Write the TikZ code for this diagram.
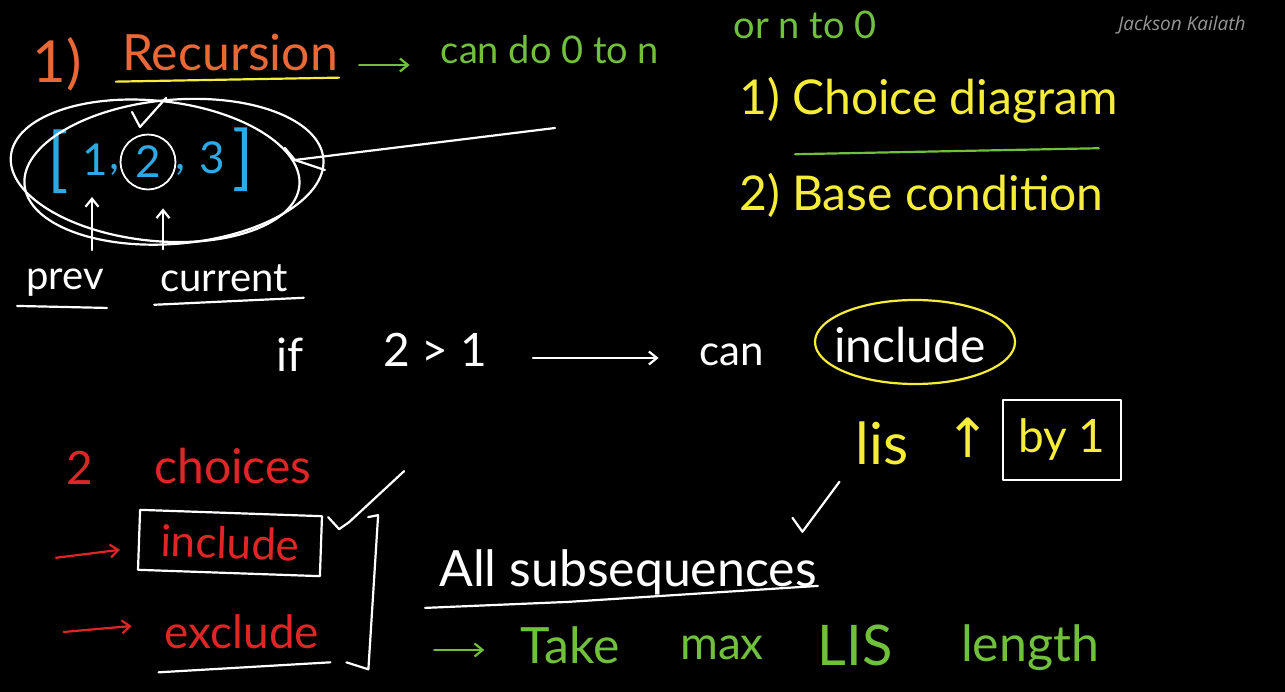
\documentclass[tikz,border=0pt]{standalone}
\usepackage{fontspec}
\setmainfont{Lato}
\newfontfamily\markfont{Open Sans}
\newfontfamily\symfont{DejaVu Sans}
\usetikzlibrary{arrows.meta,positioning,calc}
\definecolor{chalkorange}{RGB}{232,104,54}
\definecolor{chalkyellow}{RGB}{246,236,58}
\definecolor{chalkgreen}{RGB}{112,192,62}
\definecolor{chalkblue}{RGB}{44,170,228}
\definecolor{chalkred}{RGB}{222,38,38}
\definecolor{markgray}{RGB}{150,150,150}
\newcommand{\fs}[1]{\fontsize{#1}{#1}\selectfont}

\begin{document}
\begin{tikzpicture}[
  x=1pt,
  y=-1pt,
  >={Straight Barb[length=8pt,width=13pt]},
  every node/.style={inner sep=1pt},
  wtxt/.style={text=white},
  otxt/.style={text=chalkorange},
  ytxt/.style={text=chalkyellow},
  gtxt/.style={text=chalkgreen},
  btxt/.style={text=chalkblue},
  rtxt/.style={text=chalkred},
  chalk/.style={draw=white, line width=2.2pt, line cap=round, line join=round},
  yline/.style={chalk, draw=chalkyellow},
  gline/.style={chalk, draw=chalkgreen},
  warrow/.style={chalk, ->},
  garrow/.style={gline, ->},
  rarrow/.style={chalk, draw=chalkred, ->},
  framed/.style={chalk, rectangle}
]
\fill[black] (0,0) rectangle (1285,692);
\useasboundingbox (0,0) rectangle (1285,692);

% heading
\node[otxt, font=\fs{58}] (num1) at (57,64) {1)};
\node[otxt, font=\fs{50}] (recur) at (230,52) {Recursion};
\node[gtxt, font=\fs{38}] (cando) at (550,50) {can do 0 to n};
\node[gtxt, font=\fs{38}] (orrev) at (805,25) {or n to 0};
\node[text=markgray, font=\markfont\itshape\fs{19}] (author) at (1182,25) {Jackson Kailath};
\draw[yline] ($(recur.south west)+(-5,10)$) -- ($(recur.south east)+(0,6)$);
\draw[garrow] ($(recur.east)+(20,13)$) -- ($(cando.west)+(-30,15)$);

% steps
\node[ytxt, font=\fs{48}, anchor=west] (step1) at (738,100) {1) Choice diagram};
\node[ytxt, font=\fs{48}, anchor=west] (step2) at (738,195) {2) Base condition};
\draw[gline] ($(step1.base west)+(57,40)$) -- ($(step1.base east)+(-20,34)$);

% array
\node[btxt, font=\fs{70}] (lbr) at (58,162) {[};
\node[btxt, font=\fs{44}] (e1) at (95,160) {1};
\node[btxt, font=\fs{44}] (c1) at (114,170) {,};
\node[btxt, font=\fs{44}, draw=white, line width=1.8pt, circle, inner sep=5pt] (e2) at (148,162) {2};
\node[btxt, font=\fs{44}] (c2) at (180,170) {,};
\node[btxt, font=\fs{44}] (e3) at (212,158) {3};
\node[btxt, font=\fs{70}] (rbr) at (243,160) {]};
\draw[chalk, rotate around={-6:(e2)}] ($(e2)+(8,8)$) ellipse (145 and 70);
\draw[chalk, rotate around={5:(e2)}] ($(e2)+(25,12)$) ellipse (150 and 72);
\draw[chalk] ($(e2)+(-16,-50)$) -- ($(e2)+(-8,-35)$) -- ($(e2)+(18,-64)$);
\coordinate (ptr) at (555,128);
\draw[chalk] (ptr) -- ($(rbr.east)+(40,0)$) -- ++(-10,-12);
\draw[chalk] ($(rbr.east)+(40,0)$) -- ++(30,10);

\node[wtxt, font=\fs{40}] (prev) at (65,283) {prev};
\node[wtxt, font=\fs{40}] (curr) at (224,278) {current};
\draw[warrow] (prev.north -| e1) ++(-3,-18) -- ($(e1.south)+(-3,20)$);
\draw[warrow] (curr.north -| e2) ++(15,-14) -- ($(e2.south)+(15,18)$);
\draw[chalk] ($(prev.south west)+(-8,8)$) -- ($(prev.south east)+(2,10)$);
\draw[chalk] ($(curr.south west)+(-5,12)$) -- ($(curr.south east)+(15,5)$);

% condition
\node[wtxt, font=\fs{46}] (iff) at (290,355) {if};
\node[wtxt, font=\fs{46}] (cmp) at (435,350) {2 > 1};
\node[wtxt, font=\fs{42}] (can) at (732,355) {can};
\node[wtxt, font=\fs{48}] (incl) at (910,345) {include};
\draw[warrow] ($(cmp.east)+(45,8)$) -- ($(can.west)+(-40,3)$);
\draw[yline] ($(incl)+(5,-3)$) ellipse (100 and 42);

\node[ytxt, font=\fs{58}] (lis) at (882,443) {lis};
\node[ytxt, font=\symfont\fs{54}] (up) at (968,438) {↑};
\node[ytxt, font=\fs{46}, framed, minimum width=118, minimum height=80] (by) at (1062,440) {by 1};
\draw[chalk] ($(lis.south west)+(-62,52)$) -- ++(10,14) -- ++(37,-50);

% choices
\node[rtxt, font=\fs{46}] (two) at (80,468) {2};
\node[rtxt, font=\fs{48}] (choices) at (233,466) {choices};
\node[rtxt, font=\fs{44}, framed, rotate=-2, minimum width=182, minimum height=60] (inc) at (230,543) {include};
\node[rtxt, font=\fs{46}] (exc) at (242,632) {exclude};
\draw[rarrow] ($(inc.west)+(-82,18)$) -- ($(inc.west)+(-18,10)$);
\draw[rarrow] ($(exc.west)+(-100,0)$) -- ($(exc.west)+(-32,-6)$);
\draw[chalk] ($(exc.south west)+(-5,22)$) -- ($(exc.south east)+(10,12)$);
\draw[chalk] ($(inc.north east)+(45,2)$) coordinate (bt) -- ++(10,-2) -- ($(exc.south east)+(48,19)$) -- ++(-22,-7);
\draw[chalk] ($(bt)+(-40,0)$) -- ++(11,12) -- ++(10,-7) -- ++(55,-51);

% conclusion
\node[wtxt, font=\fs{50}] (allsub) at (628,572) {All subsequences};
\draw[chalk] ($(allsub.south west)+(-13,12)$) -- ($(allsub.south)+(-60,6)$) -- ($(allsub.south east)+(0,-10)$);
\node[gtxt, font=\fs{50}] (take) at (570,645) {Take};
\node[gtxt, font=\fs{46}] (maxw) at (722,648) {max};
\node[gtxt, font=\fs{56}] (lisw) at (855,645) {LIS};
\node[gtxt, font=\fs{50}] (len) at (1030,648) {length};
\draw[garrow] ($(take.west)+(-85,5)$) -- ($(take.west)+(-35,5)$);

\end{tikzpicture}
\end{document}
